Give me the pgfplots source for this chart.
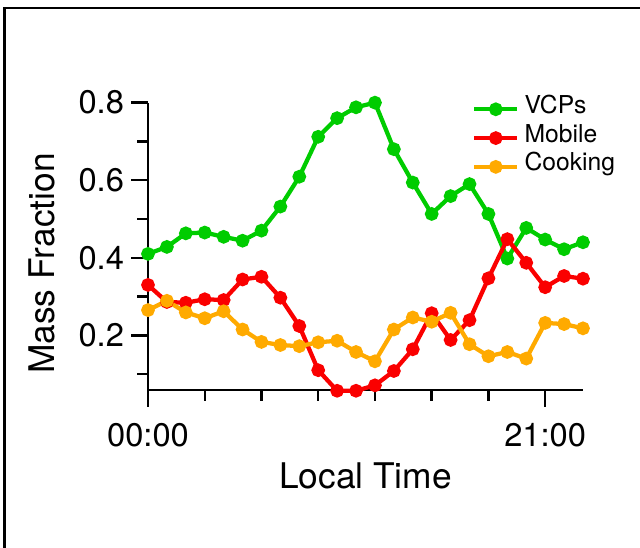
\documentclass[border=0pt]{standalone}
\usepackage{fontspec}
\setmainfont{TeX Gyre Heros}
\usepackage{pgfplots}
\usepackage{pgfplotstable}
\pgfplotsset{compat=1.18}

\definecolor{vcpgreen}{RGB}{0,204,0}
\definecolor{mobred}{RGB}{250,0,0}
\definecolor{cookorange}{RGB}{255,170,0}

% hourly mass fractions, local time 0..23 h
\pgfplotstableread{
h  vcp   mob   cook
0  0.410 0.330 0.265
1  0.428 0.286 0.289
2  0.463 0.284 0.259
3  0.465 0.293 0.244
4  0.454 0.291 0.262
5  0.444 0.344 0.215
6  0.470 0.351 0.183
7  0.532 0.297 0.175
8  0.609 0.224 0.172
9  0.712 0.110 0.182
10 0.760 0.057 0.186
11 0.788 0.057 0.157
12 0.800 0.071 0.133
13 0.680 0.108 0.215
14 0.594 0.164 0.246
15 0.513 0.257 0.235
16 0.559 0.188 0.258
17 0.590 0.239 0.177
18 0.513 0.347 0.146
19 0.398 0.448 0.157
20 0.477 0.387 0.140
21 0.447 0.324 0.232
22 0.422 0.353 0.229
23 0.440 0.346 0.218
}\datatable

\begin{document}
\begin{tikzpicture}
\draw[line width=1.9pt] (3.2pt,0) -- (3.2pt,405pt) -- (480pt,405pt);
\begin{axis}[
    at={(111pt,118.5pt)}, anchor=south west,
    scale only axis,
    width=326.25pt, height=215.5pt,
    xmin=0, xmax=23,
    ymin=0.059, ymax=0.8,
    enlargelimits=false,
    clip=false,
    axis x line=bottom,
    axis y line=left,
    axis line style={-, line width=1.8pt},
    tick style={line width=1.8pt, black},
    tick align=outside,
    major tick length=12.5pt,
    minor tick length=8pt,
    xtick={0,21},
    xticklabels={00:00,21:00},
    minor xtick={3,6,9,12,15,18},
    ytick={0.2,0.4,0.6,0.8},
    yticklabels={0.2,0.4,0.6,0.8},
    minor ytick={0.1,0.3,0.5,0.7},
    ticklabel style={font=\fontsize{24.5}{28}\selectfont},
    xticklabel style={yshift=-9pt},
    yticklabel style={xshift=-2pt},
    xlabel={Local Time},
    ylabel={Mass Fraction},
    every axis x label/.style={at={(axis description cs:0.5,-0.30)}, anchor=center,
        font=\fontsize{26.5}{31}\selectfont},
    every axis y label/.style={at={(axis description cs:-0.245,0.44)}, anchor=center, rotate=90,
        font=\fontsize{26.5}{31}\selectfont},
    legend style={at={(axis description cs:0.745,1.028)}, anchor=north west,
        draw=none, fill=none, inner sep=0pt, column sep=3pt, row sep=0pt,
        font=\fontsize{18.5}{21}\selectfont,
        nodes={inner sep=1pt, text height=12.8pt, text depth=6.8pt}},
    legend cell align=left,
    legend image code/.code={\draw[#1, mark repeat=2, mark phase=2] plot coordinates {(0pt,0pt) (16pt,0pt) (32pt,0pt)};},
    every axis plot/.append style={line width=3.2pt, mark=*, mark size=3.5pt},
]
\addplot[color=vcpgreen, mark options={fill=vcpgreen}] table[x=h, y=vcp] {\datatable};
\addlegendentry{VCPs}
\addplot[color=mobred, mark options={fill=mobred}] table[x=h, y=mob] {\datatable};
\addlegendentry{Mobile}
\addplot[color=cookorange, mark options={fill=cookorange}] table[x=h, y=cook] {\datatable};
\addlegendentry{Cooking}
\end{axis}
\pgfresetboundingbox
\useasboundingbox (0,0) rectangle (480pt,411pt);
\end{tikzpicture}
\end{document}
